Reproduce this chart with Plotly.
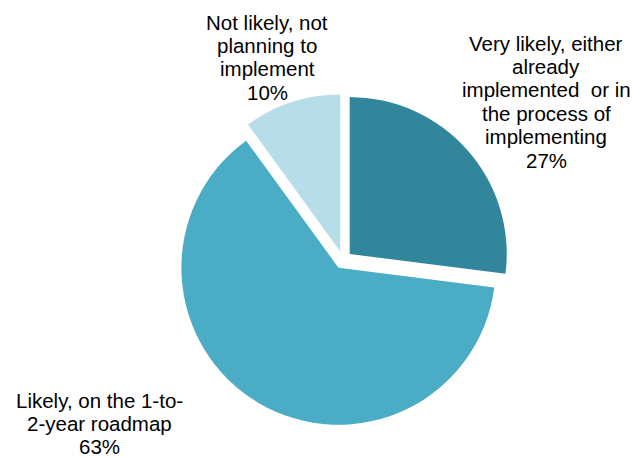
import plotly.graph_objects as go

# ---- data ----
categories = [
    "Very likely, either already implemented or in the process of implementing",
    "Likely, on the 1-to-2-year roadmap",
    "Not likely, not planning to implement",
]
values = [27, 63, 10]
colors = ["#31869B", "#4BACC6", "#B7DDE8"]

# label text, one list of lines per slice
label_lines = [
    ["Very likely, either", "already", "implemented\u00a0 or in", "the process of", "implementing", "27%"],
    ["Likely, on the 1-to-", "2-year roadmap", "63%"],
    ["Not likely, not", "planning to", "implement", "10%"],
]

# ---- layout constants (pixels) ----
W, H = 633, 457
label_centers_x = [546, 99, 267]
label_first_y = [43, 400, 22]
line_step = 23.4
font_size = 20.5

fig = go.Figure(
    go.Pie(
        labels=categories,
        values=values,
        sort=False,
        direction="clockwise",
        rotation=0,
        pull=[0.057] * len(values),
        marker=dict(colors=colors, line=dict(width=0)),
        textinfo="none",
        hoverinfo="label+percent",
        showlegend=False,
        domain=dict(x=[177 / W, 509 / W], y=[(H - 426) / H, (H - 94) / H]),
    )
)

annotations = []
for lines, cx, y0 in zip(label_lines, label_centers_x, label_first_y):
    for i, line in enumerate(lines):
        annotations.append(
            dict(
                text=line,
                x=cx / W,
                y=1 - (y0 + i * line_step) / H,
                xref="paper",
                yref="paper",
                xanchor="center",
                yanchor="middle",
                showarrow=False,
                font=dict(family="Arial, Liberation Sans, sans-serif", size=font_size, color="#000000"),
            )
        )

fig.update_layout(
    width=W,
    height=H,
    margin=dict(l=0, r=0, t=0, b=0),
    paper_bgcolor="white",
    plot_bgcolor="white",
    annotations=annotations,
)

fig.write_html(
    "out.html",
    config={"displayModeBar": False},
    post_script="document.body.style.margin='0';",
)
